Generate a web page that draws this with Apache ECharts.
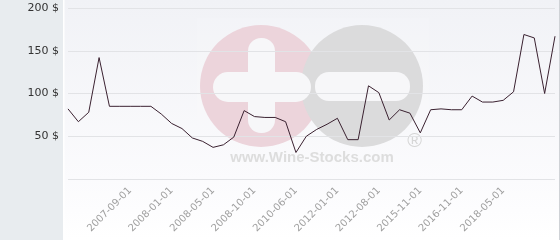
<!DOCTYPE html>
<html><head><meta charset="utf-8">
<script src="https://cdn.jsdelivr.net/npm/echarts@6/dist/echarts.min.js"></script>
<style>html,body{margin:0;padding:0;background:#fff}#c{width:560px;height:240px}</style>
</head><body><div id="c"></div><script>
// Categories (only labelled dates are known; others left blank)
const categories = [
  '', '', '', '', '', '', '2007-09-01', '', '', '',
  '2008-01-01', '', '', '', '2008-05-01', '', '', '', '2008-10-01', '',
  '', '', '2010-06-01', '', '', '', '2012-01-01', '', '', '',
  '2012-08-01', '', '', '', '2015-11-01', '', '', '', '2016-11-01', '',
  '', '', '2018-05-01', '', '', '', '', ''
];
const prices = [
  82, 67, 78, 142, 85, 85, 85, 85, 85, 76,
  65, 59, 48, 44, 37, 40, 49, 80, 73, 72,
  72, 67, 31, 50, 58, 64, 71, 46, 46, 109,
  101, 69, 81, 77, 54, 81, 82, 81, 81, 97,
  90, 90, 92, 102, 169, 165, 100, 167
];
const yMin = 0, yMax = 200, yStep = 50;
const currency = ' $';

const chart = echarts.init(document.getElementById('c'), null, {renderer: 'canvas'});
chart.setOption({
  animation: false,
  graphic: {
    elements: [
      {type: 'rect', z: -20, shape: {x: 63, y: 0, width: 497, height: 240},
       style: {fill: new echarts.graphic.LinearGradient(0, 0, 0, 1, [
         {offset: 0, color: '#f1f2f6'}, {offset: 0.75, color: '#fbfbfd'}, {offset: 1, color: '#ffffff'}])}},
      {type: 'rect', z: -19, shape: {x: 0, y: 0, width: 63, height: 240}, style: {fill: '#e8ecef'}},
      {type: 'rect', z: -19, shape: {x: 63, y: 0, width: 1.5, height: 240}, style: {fill: '#ffffff'}},
      {type: 'rect', z: -19, shape: {x: 559, y: 0, width: 1, height: 240}, style: {fill: '#cfd2d6'}},
      {type: 'rect', z: -18, shape: {x: 197, y: 18, width: 232, height: 158}, style: {fill: 'rgba(255,255,255,0.12)'}},
      {type: 'circle', z: -17, shape: {cx: 261, cy: 86, r: 61}, style: {fill: '#ecd4db'}},
      {type: 'circle', z: -16, shape: {cx: 362, cy: 86, r: 61}, style: {fill: '#dbdbdc'}},
      {type: 'rect', z: -15, shape: {x: 248, y: 38, width: 27, height: 95, r: 13}, style: {fill: '#f7f7f9'}},
      {type: 'rect', z: -15, shape: {x: 213, y: 72, width: 98, height: 30, r: 15}, style: {fill: '#f7f7f9'}},
      {type: 'rect', z: -15, shape: {x: 315, y: 72, width: 95, height: 29, r: 14}, style: {fill: '#f7f7f9'}},
      {type: 'text', z: -15, x: 312, y: 165, style: {text: 'www.Wine-Stocks.com', fill: '#dddddd',
        font: 'bold 15px "Liberation Sans", Arial, sans-serif', textAlign: 'center', textVerticalAlign: 'bottom'}},
      {type: 'text', z: -15, x: 414.5, y: 141, style: {text: '®', fill: '#d6d6d6',
        font: '20px "Liberation Sans", Arial, sans-serif', textAlign: 'center', textVerticalAlign: 'middle'}}
    ]
  },
  grid: {left: 68, right: 5, top: 8, bottom: 61},
  xAxis: {
    type: 'category', data: categories, boundaryGap: false,
    axisLine: {show: false}, axisTick: {show: false}, splitLine: {show: false},
    axisLabel: {interval: 0, rotate: 45, margin: 10, color: '#a0a0a0', fontSize: 10,
      fontFamily: '"DejaVu Sans", sans-serif'}
  },
  yAxis: {
    type: 'value', min: yMin, max: yMax, interval: yStep,
    axisLine: {show: false}, axisTick: {show: false},
    splitLine: {lineStyle: {color: '#e2e3e6', width: 1}},
    axisLabel: {margin: 9, color: '#333333', fontSize: 11, fontFamily: '"DejaVu Sans", sans-serif',
      formatter: v => v === 0 ? '' : v + currency}
  },
  series: [{
    type: 'line', data: prices, symbol: 'none', z: 5,
    lineStyle: {color: '#3a2130', width: 1}
  }]
});
</script></body></html>
